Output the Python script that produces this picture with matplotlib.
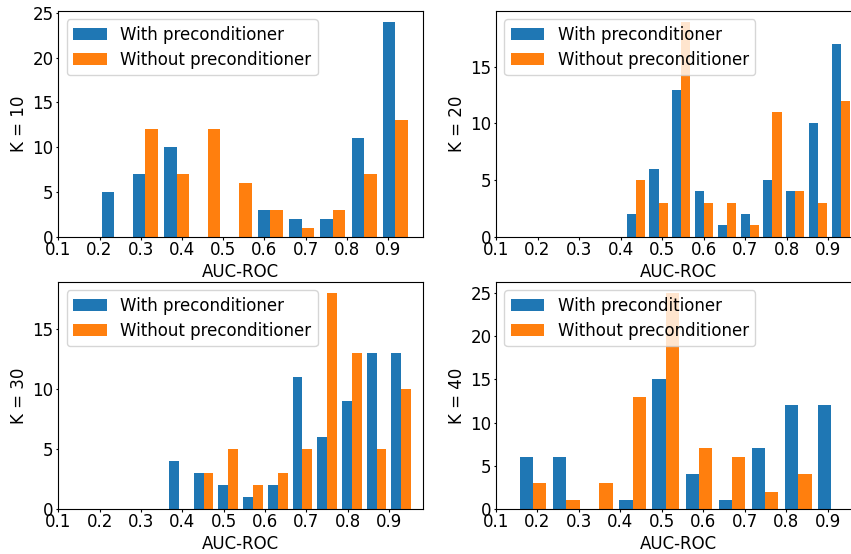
import matplotlib
matplotlib.use("Agg")
import matplotlib.pyplot as plt
import numpy as np

plt.rcParams['font.size'] = 12
plt.rcParams['xtick.major.size'] = 1.8
plt.rcParams['ytick.major.size'] = 1.8
plt.rcParams['xtick.major.pad'] = 1.2
plt.rcParams['ytick.major.pad'] = 1.5

labels = ["With preconditioner", "Without preconditioner"]
k_values = [10, 20, 30, 40]

# AUC-ROC range covered by the 10 histogram bins of each panel
bin_ranges = {
    10: (0.1975, 0.956),
    20: (0.409, 0.957),
    30: (0.3616, 0.9596),
    40: (0.1496, 0.9486),
}

# counts per bin, 64 runs each
with_pre = {
    10: [5, 7, 10, 0, 0, 3, 2, 2, 11, 24],
    20: [2, 6, 13, 4, 1, 2, 5, 4, 10, 17],
    30: [4, 3, 2, 1, 2, 11, 6, 9, 13, 13],
    40: [6, 6, 0, 1, 15, 4, 1, 7, 12, 12],
}
without_pre = {
    10: [0, 12, 7, 12, 6, 3, 1, 3, 7, 13],
    20: [5, 3, 19, 3, 3, 1, 11, 4, 3, 12],
    30: [0, 3, 5, 2, 3, 5, 18, 13, 5, 10],
    40: [3, 1, 3, 13, 25, 7, 6, 2, 4, 0],
}

xticks = [0.1, 0.2, 0.3, 0.4, 0.5, 0.6, 0.7, 0.8, 0.9]

W, H = 851, 554
fig = plt.figure(figsize=(W / 100, H / 100), dpi=100)

# axes boxes in pixels: left, top, width, height (right column runs off the edge)
boxes = {
    10: (58.3, 11, 365, 225.5),
    20: (496, 11, 365, 225.5),
    30: (58.3, 282, 365, 227),
    40: (496, 282, 365, 227),
}

for k in k_values:
    l, t, w, h = boxes[k]
    ax = fig.add_axes([l / W, 1 - (t + h) / H, w / W, h / H])
    lo, hi = bin_ranges[k]
    edges = np.linspace(lo, hi, 11)
    mids = (edges[:-1] + edges[1:]) / 2
    ax.hist([mids, mids], bins=edges,
            weights=[with_pre[k], without_pre[k]],
            color=["#1f77b4", "#ff7f0e"], label=labels)
    ax.set_xlim(left=0.1)
    ax.set_xticks(xticks)
    ax.set_xlabel("AUC-ROC", labelpad=3)
    ax.set_ylabel("K = %d" % k, labelpad=3)
    ax.legend(loc="upper left", labelspacing=0.4)

fig.savefig("out.png", dpi=100)
